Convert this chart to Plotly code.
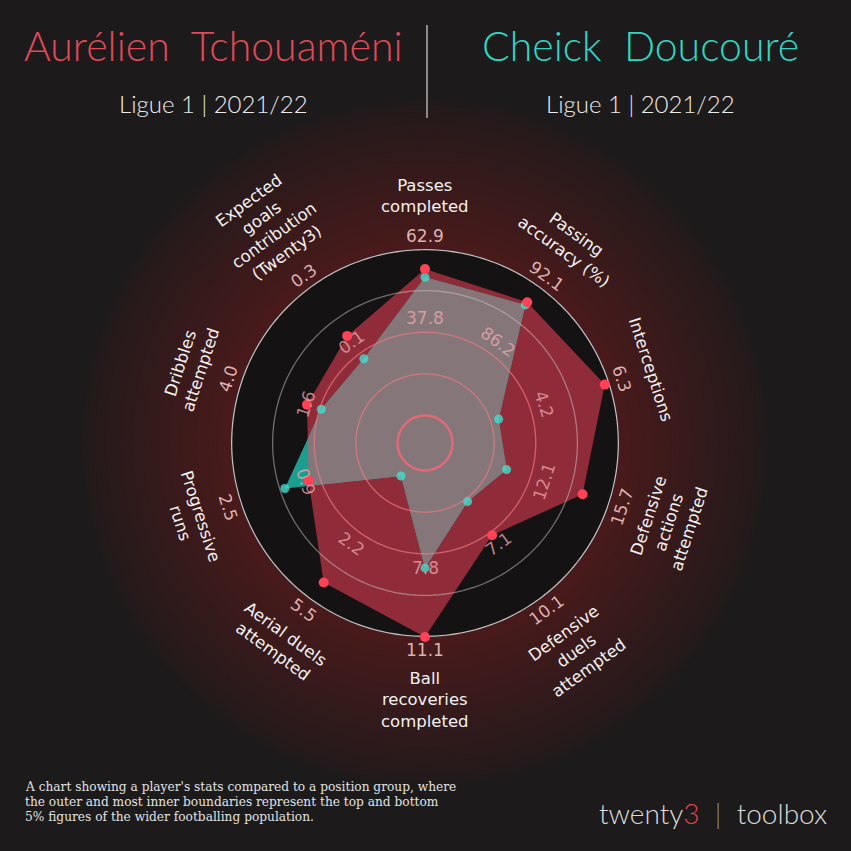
import numpy as np
import plotly.graph_objects as go

# ---------------- data ----------------
categories = [
    "Passes<br>completed",
    "Passing<br>accuracy (%)",
    "Interceptions",
    "Defensive<br>actions<br>attempted",
    "Defensive<br>duels<br>attempted",
    "Ball<br>recoveries<br>completed",
    "Aerial duels<br>attempted",
    "Progressive<br>runs",
    "Dribbles<br>attempted",
    "Expected<br>goals<br>contribution<br>(Twenty3)",
]
top_labels = ["62.9", "92.1", "6.3", "15.7", "10.1", "11.1", "5.5", "2.5", "4.0", "0.3"]
mid_labels = ["37.8", "86.2", "4.2", "12.1", "7.1", "7.8", "2.2", "0.9", "1.6", "0.1"]

# position on each axis: 0 = bottom 5% boundary, 1 = top 5% boundary
tchouameni = [0.88, 0.88, 0.97, 0.83, 0.52, 1.00, 0.87, 0.57, 0.58, 0.63]
doucoure = [0.83, 0.86, 0.30, 0.35, 0.27, 0.585, 0.08, 0.72, 0.49, 0.46]

player1 = "Aurélien  Tchouaméni"
player2 = "Cheick  Doucouré"
subtitle = "Ligue 1 | 2021/22"
footnote_lines = [
    "A chart showing a player's stats compared to a position group, where",
    "the outer and most inner boundaries represent the top and bottom",
    "5% figures of the wider footballing population.",
]

# ---------------- style / geometry ----------------
W = H = 851
CX, CY = 425, 443          # chart centre in pixels
R_OUT = 194                # outer ring radius in pixels
R_IN = 27.5                # hole radius in pixels
HOLE = R_IN / R_OUT
BG = "#1c1a1b"
RED = "#902c3a"
TEAL = "#1b9e8f"
GREY = "#857779"

N = len(categories)
theta = np.arange(N) * 360.0 / N


def px(x):
    return x / W


def py(y):
    return 1 - y / H


def closed(a):
    a = list(a)
    return a + a[:1]


# ---------- overlap polygon (computed in screen geometry) ----------
def rho(v):
    return HOLE + (1 - HOLE) * np.asarray(v, dtype=float)


def cross(u, v):
    return u[0] * v[1] - u[1] * v[0]


def ray_r(vals, i, phi):
    j = (i + 1) % N
    ai, aj = np.deg2rad(theta[i]), np.deg2rad(theta[i] + 360.0 / N)
    A = rho(vals[i]) * np.array([np.sin(ai), np.cos(ai)])
    B = rho(vals[j]) * np.array([np.sin(aj), np.cos(aj)])
    D = B - A
    d = np.array([np.sin(phi), np.cos(phi)])
    return cross(A, D) / cross(d, D)


ov_r, ov_t = [], []
for i in range(N):
    for phi_deg in np.linspace(theta[i], theta[i] + 360.0 / N, 60, endpoint=False):
        phi = np.deg2rad(phi_deg)
        t = min(ray_r(tchouameni, i, phi), ray_r(doucoure, i, phi))
        ov_r.append(max((t - HOLE) / (1 - HOLE), 0.0))
        ov_t.append(phi_deg)

fig = go.Figure()

# filled areas
fig.add_trace(go.Scatterpolar(r=closed(tchouameni), theta=closed(theta), mode="lines",
                              fill="toself", fillcolor=RED, line=dict(width=0, color=RED),
                              hoverinfo="skip", showlegend=False))
fig.add_trace(go.Scatterpolar(r=closed(doucoure), theta=closed(theta), mode="lines",
                              fill="toself", fillcolor=TEAL, line=dict(width=0, color=TEAL),
                              hoverinfo="skip", showlegend=False))
fig.add_trace(go.Scatterpolar(r=closed(ov_r), theta=closed(ov_t), mode="lines",
                              fill="toself", fillcolor=GREY, line=dict(width=0, color=GREY),
                              hoverinfo="skip", showlegend=False))

# rings
ring_t = np.linspace(0, 360, 361)
rings = [
    (0.25, "rgba(240,120,130,0.7)", 1.3),
    (0.5, "rgba(240,120,130,0.7)", 1.3),
    (0.75, "rgba(205,200,200,0.5)", 1.3),
    (1.0, "rgba(215,208,208,0.9)", 2.6),
]
for rv, col, wd in rings:
    fig.add_trace(go.Scatterpolar(r=[rv] * len(ring_t), theta=ring_t, mode="lines",
                                  line=dict(color=col, width=wd), hoverinfo="skip",
                                  showlegend=False))

# markers
fig.add_trace(go.Scatterpolar(r=doucoure, theta=theta, mode="markers",
                              marker=dict(size=9, color="rgba(70,220,205,0.8)"),
                              name=player2, showlegend=False))
fig.add_trace(go.Scatterpolar(r=tchouameni, theta=theta, mode="markers",
                              marker=dict(size=10, color="#ff4255"),
                              name=player1, showlegend=False))

# ---------------- background glow ----------------
shapes = []
NG = 40
for k in range(NG):
    r = 345 - k * (345 - R_OUT) / NG
    shapes.append(dict(type="circle", xref="paper", yref="paper", layer="below",
                       x0=px(CX - r), x1=px(CX + r), y0=py(CY + r), y1=py(CY - r),
                       fillcolor="rgba(112,24,36,0.028)", line=dict(width=0)))
shapes.append(dict(type="circle", xref="paper", yref="paper", layer="below",
                   x0=px(CX - R_OUT), x1=px(CX + R_OUT), y0=py(CY + R_OUT), y1=py(CY - R_OUT),
                   fillcolor="#141213", line=dict(width=0)))
# centre (bottom 5%) disc, covered by the overlap area
shapes.append(dict(type="circle", xref="paper", yref="paper", layer="above",
                   x0=px(CX - R_IN), x1=px(CX + R_IN), y0=py(CY + R_IN), y1=py(CY - R_IN),
                   fillcolor=GREY, line=dict(width=2.5, color="#e06a76")))
# title separator
shapes.append(dict(type="line", xref="paper", yref="paper",
                   x0=px(427), x1=px(427), y0=py(25), y1=py(118),
                   line=dict(color="#8a8a8a", width=2)))

# ---------------- labels ----------------
ann = []


def rot_angle(t):
    t = t % 360
    if 90 < t < 270:
        return t - 180
    return t if t <= 90 else t - 360


def polar_px(t, r):
    a = np.deg2rad(t)
    return CX + r * np.sin(a), CY - r * np.cos(a)


LAB_SIZE = 16.5
LH = 20
for t, cat, top, mid in zip(theta, categories, top_labels, mid_labels):
    nlines = cat.count("<br>") + 1
    x, y = polar_px(t, 227 + nlines * LH / 2)
    ann.append(dict(x=px(x), y=py(y), text=cat, textangle=rot_angle(t),
                    font=dict(family="DejaVu Sans", size=LAB_SIZE, color="#f2f2f2")))
    x, y = polar_px(t, R_OUT + 13)
    ann.append(dict(x=px(x), y=py(y), text=top, textangle=rot_angle(t),
                    font=dict(family="DejaVu Sans", size=17, color="rgba(232,190,190,0.95)")))
    x, y = polar_px(t, R_IN + 0.5 * (R_OUT - R_IN) + 14)
    ann.append(dict(x=px(x), y=py(y), text=mid, textangle=rot_angle(t),
                    font=dict(family="DejaVu Sans", size=17, color="rgba(240,170,175,0.75)")))

for a in ann:
    a.update(xref="paper", yref="paper", showarrow=False, xanchor="center", yanchor="middle")

TITLE_FONT = "Lato"
head = [
    dict(x=px(213), y=py(45), text=player1,
         font=dict(family=TITLE_FONT, size=41, color="#e04a58", weight=300)),
    dict(x=px(640), y=py(45), text=player2,
         font=dict(family=TITLE_FONT, size=41, color="#2fd6c2", weight=300)),
    dict(x=px(213), y=py(103), text=subtitle,
         font=dict(family=TITLE_FONT, size=24, color="#ececec", weight=300)),
    dict(x=px(640), y=py(103), text=subtitle,
         font=dict(family=TITLE_FONT, size=24, color="#ececec", weight=300)),
]
for a in head:
    a.update(xref="paper", yref="paper", showarrow=False, xanchor="center", yanchor="middle")
ann += head

for k, line in enumerate(footnote_lines):
    ann.append(dict(x=px(23), y=py(787 + 15 * k), text=line, xref="paper", yref="paper",
                    showarrow=False, xanchor="left", yanchor="middle", align="left",
                    font=dict(family="DejaVu Serif", size=12.2, color="#e2e2e2")))
ann.append(dict(x=px(829), y=py(813),
                text="twenty<span style='color:#e8404f'>3</span>  <span style='color:#888'>|</span>  toolbox",
                xref="paper", yref="paper", showarrow=False, xanchor="right", yanchor="middle",
                font=dict(family=TITLE_FONT, size=28, color="#dcdcdc", weight=300)))

fig.update_layout(
    width=W, height=H,
    margin=dict(l=0, r=0, t=0, b=0),
    paper_bgcolor=BG,
    plot_bgcolor=BG,
    showlegend=False,
    shapes=shapes,
    annotations=ann,
    polar=dict(
        domain=dict(x=[px(CX - R_OUT), px(CX + R_OUT)], y=[py(CY + R_OUT), py(CY - R_OUT)]),
        hole=HOLE,
        bgcolor="#141213",
        radialaxis=dict(range=[0, 1], showgrid=False, showline=False, showticklabels=False, ticks=""),
        angularaxis=dict(rotation=90, direction="clockwise", showgrid=False, showline=False,
                         showticklabels=False, ticks=""),
    ),
)

fig.write_html("out.html", config={"displayModeBar": False},
               post_script="document.body.style.margin='0';document.body.style.background='%s';" % BG)
